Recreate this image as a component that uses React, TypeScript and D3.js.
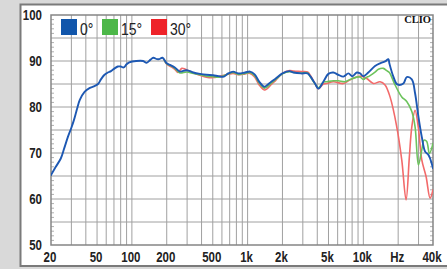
import React from "react";
import * as d3 from "d3";

const W = 447;
const H = 269;

const yTicks = [50, 60, 70, 80, 90, 100];
const xTickLabels = ["20", "50", "100", "200", "500", "1k", "2k", "5k", "10k", "Hz", "40k"];
const xTickValues = [20, 50, 100, 200, 500, 1000, 2000, 5000, 10000, 20000, 40000];
const legendLabels = ["0°", "15°", "30°"];

const blueFreq = [20, 22, 24.3, 26, 28, 30, 31.6, 33.5, 35.4, 39, 43, 47, 51, 54, 58, 62, 66, 71, 75.6, 80, 85, 90, 95, 109, 125, 134, 145, 153, 165, 172, 184, 200, 216, 235, 260, 297, 340, 388, 440, 504, 560, 624, 680, 750, 830, 950, 1050, 1150, 1260, 1395, 1480, 1600, 1750, 2000, 2300, 2500, 2900, 3300, 3500, 3800, 4100, 4514, 4988, 5508, 6083, 6718, 7430, 8040, 8770, 9372, 10000, 11040, 12620, 13960, 15410, 16460, 16780, 18180, 19680, 22180, 23720, 26240, 28000, 29920, 32000, 34200, 36500, 37760, 40000];
const blueDb = [65.2, 67, 68.8, 71, 73.5, 75.5, 77.2, 79.5, 81.5, 83.3, 84.1, 84.5, 85, 86, 87, 87.5, 87.8, 88.4, 88.8, 88.8, 88.6, 89.3, 89.7, 90, 90, 89.6, 90.3, 90.7, 90.4, 90.4, 90.7, 89.5, 89.1, 88.6, 87.7, 88, 87.5, 87.2, 87.0, 86.9, 86.7, 86.6, 87.3, 87.7, 87.3, 87.5, 87.7, 87.1, 85.5, 84.4, 84.8, 85.5, 86.2, 87.3, 87.8, 87.5, 87.3, 87.3, 86.6, 85.2, 84.0, 85.5, 87.2, 87.5, 87.0, 86.6, 87.3, 86.7, 87.5, 87.3, 86.7, 87.5, 88.9, 89.5, 89.9, 90.4, 89.5, 86.6, 84.9, 85.1, 86.5, 86.0, 83.0, 77.9, 73.5, 70.3, 69.6, 68.8, 66.7];

const greenFreq = [190, 200, 216, 235, 260, 297, 340, 388, 440, 504, 560, 624, 680, 750, 830, 950, 1050, 1150, 1260, 1395, 1480, 1600, 1750, 2000, 2300, 2500, 2900, 3300, 3500, 3800, 4100, 4514, 4828, 5508, 6083, 6950, 7678, 8770, 9372, 10000, 10710, 11040, 12620, 13490, 14900, 15930, 16780, 18800, 21480, 23720, 26240, 28000, 29920, 32000, 33500, 35300, 37240, 40000];
const greenDb = [90.3, 89.4, 89.0, 88.4, 87.4, 87.6, 87.3, 87.0, 86.7, 86.6, 86.5, 86.8, 87.2, 87.5, 87.1, 87.3, 87.5, 86.8, 85.2, 84.1, 84.4, 85.2, 86.0, 87.2, 87.7, 87.5, 87.4, 87.4, 86.5, 85.1, 84.2, 85.4, 85.5, 85.7, 85.7, 85.5, 86.0, 86.5, 86.5, 86.0, 86.5, 86.6, 87.6, 88.2, 88.4, 87.9, 87.5, 84.8, 82.2, 81.2, 79.0, 75.7, 67.4, 70.7, 72.8, 72.5, 69.9, 72.1];

const redFreq = [190, 200, 216, 235, 250, 270, 290, 340, 388, 440, 504, 560, 624, 680, 750, 830, 950, 1050, 1150, 1260, 1395, 1480, 1600, 1750, 2000, 2300, 2500, 2900, 3300, 3500, 3800, 4100, 4514, 4828, 5508, 6718, 7678, 8770, 9680, 10710, 12210, 13960, 15410, 17020, 19450, 21480, 23400, 25000, 26240, 28000, 29920, 32000, 34840, 37760, 40000];
const redDb = [90.3, 89.3, 88.8, 88.2, 87.5, 88.4, 88.2, 87.4, 86.9, 86.5, 86.4, 86.6, 86.9, 87.1, 87.3, 87.0, 87.2, 87.3, 86.5, 84.8, 83.7, 84.0, 84.9, 85.8, 87.3, 87.9, 87.8, 87.7, 87.6, 86.8, 85.2, 84.0, 85.0, 85.1, 85.5, 85.1, 85.9, 86.5, 86.7, 86.2, 85.1, 85.5, 84.8, 82.2, 75.7, 68.5, 59.8, 69.2, 75.7, 79.3, 75.4, 68.5, 64.9, 60.2, 62.0];

const COL_BLUE = "#1d58b3";
const COL_GREEN = "#6cc35c";
const COL_RED = "#f26a6a";
const LEG_COLS = ["#1156ab", "#4cb748", "#ee2229"];

export default function App() {
  const left = 51, right = 433, top = 15, bottom = 245;
  const x = d3.scaleLog().domain([20, 40000]).range([left, right]);
  const y = d3.scaleLinear().domain([50, 100]).range([bottom, top]);

  const mk = (fs: number[], ds: number[]) =>
    d3
      .line<number>()
      .x((_, i) => x(fs[i]))
      .y((d) => y(d))
      .curve(d3.curveCatmullRom.alpha(0.5))(ds) || "";

  const vGrid: number[] = [];
  [10, 100, 1000, 10000].forEach((dec) => {
    for (let m = 1; m <= 9; m++) {
      const f = dec * m;
      if (f > 20 && f < 40000) vGrid.push(f);
    }
  });
  const hGrid = d3.range(55, 100, 5);
  const minor = d3.range(51, 100, 1).filter((v) => v % 5 !== 0);

  const font = "'Liberation Sans', Arial, sans-serif";

  return (
    <svg
      width={W}
      height={H}
      style={{ position: "fixed", left: 0, top: 0, display: "block" }}
    >
      <rect x={0} y={0} width={W} height={H} fill="#d9d9d9" />
      <rect x={20.5} y={4.5} width={W} height={261.5} fill="#ffffff" stroke="#7a7a7a" strokeWidth={2} />
      <defs>
        <clipPath id="plotclip">
          <rect x={left} y={top} width={right - left} height={bottom - top} />
        </clipPath>
      </defs>
      {hGrid.map((v) => (
        <line key={"h" + v} x1={left} x2={right} y1={y(v)} y2={y(v)} stroke="#a0a0a0" strokeWidth={1} />
      ))}
      {vGrid.map((f) => (
        <line key={"v" + f} x1={x(f)} x2={x(f)} y1={top} y2={bottom} stroke="#a0a0a0" strokeWidth={1} />
      ))}
      {minor.map((v) => (
        <g key={"m" + v}>
          <line x1={left} x2={left + 3} y1={y(v)} y2={y(v)} stroke="#b0b0b0" strokeWidth={1} />
          <line x1={right - 3} x2={right} y1={y(v)} y2={y(v)} stroke="#b0b0b0" strokeWidth={1} />
        </g>
      ))}
      <rect x={left} y={top} width={right - left} height={bottom - top} fill="none" stroke="#858585" strokeWidth={1.5} />
      <g clipPath="url(#plotclip)" fill="none" strokeLinejoin="round" strokeLinecap="round">
        <path d={mk(redFreq, redDb)} stroke={COL_RED} strokeWidth={1.6} />
        <path d={mk(greenFreq, greenDb)} stroke={COL_GREEN} strokeWidth={1.6} />
        <path d={mk(blueFreq, blueDb)} stroke={COL_BLUE} strokeWidth={1.9} />
      </g>
      <text x={431} y={23} textAnchor="end" fontFamily="'Liberation Serif', 'DejaVu Serif', serif" fontWeight="bold" fontSize={10.5} fill="#111">
        CLIO
      </text>
      {yTicks.map((v) => (
        <text
          key={"yl" + v}
          transform={`translate(42,${y(v) + 5}) scale(0.82,1)`}
          textAnchor="end"
          fontFamily={font}
          fontWeight="bold"
          fontSize={14}
          fill="#222"
        >
          {v}
        </text>
      ))}
      {xTickValues.map((f, i) => (
        <text
          key={"xl" + f}
          transform={`translate(${x(f) - 1},${262}) scale(0.82,1)`}
          textAnchor="middle"
          fontFamily={font}
          fontWeight="bold"
          fontSize={14}
          fill="#222"
        >
          {xTickLabels[i]}
        </text>
      ))}
      {legendLabels.map((lab, i) => {
        const lx = [61, 102, 151][i];
        return (
          <g key={"lg" + i}>
            <rect x={lx} y={19} width={16} height={16} fill={LEG_COLS[i]} />
            <text
              transform={`translate(${lx + 19},35) scale(0.85,1)`}
              fontFamily={font}
              fontSize={16.5}
              fill="#222"
            >
              {lab}
            </text>
          </g>
        );
      })}
    </svg>
  );
}
